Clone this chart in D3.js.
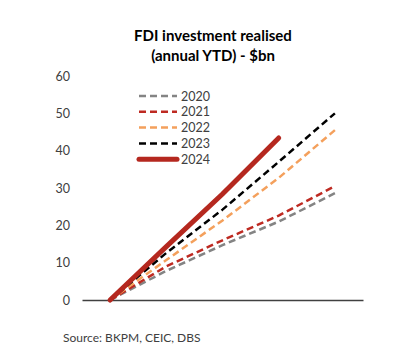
<!DOCTYPE html>
<html>
<head>
<meta charset="utf-8">
<script src="https://cdn.jsdelivr.net/npm/d3@7"></script>
<style>
  body { margin: 0; background: #fff; }
  text { font-family: Lato, "Open Sans", sans-serif; }
</style>
</head>
<body>
<div id="chart-area"></div>
<script>
const quarters = ["Q0", "Q1", "Q2", "Q3", "Q4"]
const years = ["2020", "2021", "2022", "2023", "2024"]
const yTicks = [0, 10, 20, 30, 40, 50, 60]

const fdi2020 = [0, 7.8, 14.7, 21, 28.6]
const fdi2021 = [0, 9, 16, 22.6, 30.5]
const fdi2022 = [0, 10.7, 21.3, 32.7, 45.5]
const fdi2023 = [0, 12.6, 24.2, 37, 50]
const fdi2024 = [0, 14.3, 28.4, 43.4]

const seriesValues = [fdi2020, fdi2021, fdi2022, fdi2023, fdi2024]
const lineStyle = [
  { color: "#848484", width: 2.5, dash: "7,4" },
  { color: "#be2a22", width: 2.5, dash: "7,4" },
  { color: "#f4a05c", width: 2.5, dash: "7,4" },
  { color: "#000000", width: 2.5, dash: "7,4" },
  { color: "#b5281f", width: 5, dash: null },
]

const width = 418
const height = 351

const svg = d3.select("#chart-area").append("svg")
  .attr("width", width)
  .attr("height", height)

// title
const title = svg.append("text")
  .attr("text-anchor", "middle")
  .attr("font-size", "15px")
  .attr("font-weight", "bold")
  .attr("fill", "#000")
title.append("tspan").attr("x", 213).attr("y", 41).text("FDI investment realised")
title.append("tspan").attr("x", 213).attr("y", 61).text("(annual YTD) - $bn")

const x = d3.scalePoint()
  .domain(quarters)
  .range([82, 363])
  .padding(0.5)

const y = d3.scaleLinear()
  .domain([0, 60])
  .range([300, 76])

const yAxisCall = d3.axisLeft(y)
  .tickValues(yTicks)
  .tickSize(0)
  .tickPadding(0)

const yAxis = svg.append("g")
  .attr("transform", "translate(70, 0)")
  .call(yAxisCall)
yAxis.select(".domain").remove()
yAxis.selectAll("text")
  .attr("font-size", "12.5px")
  .attr("fill", "#404040")
  .attr("font-family", "Lato, sans-serif")

const xAxis = svg.append("g")
  .attr("transform", `translate(0, ${y(0)})`)
  .call(d3.axisBottom(x).tickValues([]).tickSizeOuter(0))
xAxis.select(".domain")
  .attr("stroke", "#404040")
  .attr("stroke-width", 1.5)

const line = d3.line()
  .x((d, i) => x(quarters[i]))
  .y(d => y(d))

seriesValues.forEach((vals, i) => {
  svg.append("path")
    .datum(vals)
    .attr("fill", "none")
    .attr("stroke", lineStyle[i].color)
    .attr("stroke-width", lineStyle[i].width)
    .attr("stroke-dasharray", lineStyle[i].dash)
    .attr("stroke-linecap", lineStyle[i].dash ? "butt" : "round")
    .attr("d", line)
})

// legend
const legend = svg.append("g")
years.forEach((yr, i) => {
  const ly = 96 + i * 15.8
  legend.append("line")
    .attr("x1", 139)
    .attr("x2", 177)
    .attr("y1", ly)
    .attr("y2", ly)
    .attr("stroke", lineStyle[i].color)
    .attr("stroke-width", lineStyle[i].width)
    .attr("stroke-dasharray", lineStyle[i].dash)
    .attr("stroke-linecap", lineStyle[i].dash ? "butt" : "round")
  legend.append("text")
    .attr("x", 181)
    .attr("y", ly + 4.5)
    .attr("font-size", "12.5px")
    .attr("fill", "#404040")
    .text(yr)
})

svg.append("text")
  .attr("x", 63)
  .attr("y", 342)
  .attr("font-size", "12px")
  .attr("fill", "#404040")
  .text("Source: BKPM, CEIC, DBS")
</script>
</body>
</html>
